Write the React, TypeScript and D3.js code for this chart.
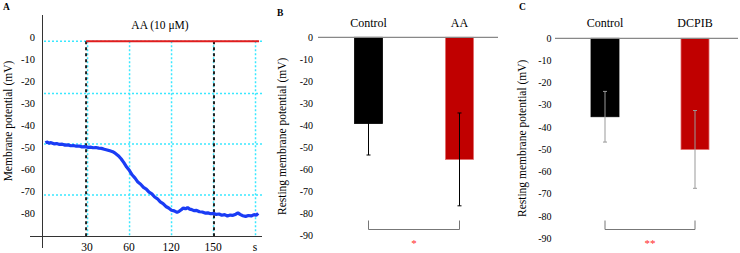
import React, { useEffect, useRef } from 'react';
import * as d3 from 'd3';

// Panel A: membrane potential trace during AA application
const traceTime = [1, 2, 3.5, 5, 7, 9, 11, 13, 15, 17, 19, 21, 23, 25, 27, 29, 31, 33, 35, 37, 39, 41, 43, 45, 47, 49, 51, 53, 55, 57, 59, 61, 63, 65, 67, 69, 71, 73, 75, 77, 79, 81, 83, 85, 87, 89, 91, 93, 95, 96.5, 98, 99.5, 101, 102.5, 104, 105.5, 107, 109, 111, 113, 115, 117, 119, 121, 123, 125, 127, 129, 131, 133, 135, 137, 138.5, 140, 142, 144, 146, 148, 150, 151.5, 153];
const traceMv = [-48.0, -47.6, -48.1, -47.9, -48.4, -48.3, -48.7, -48.6, -49.0, -48.9, -49.3, -49.2, -49.5, -49.4, -49.8, -49.7, -50.0, -49.9, -50.2, -50.1, -50.4, -50.5, -50.9, -51.2, -51.6, -52.0, -52.8, -53.8, -55.2, -57.0, -59.0, -60.6, -62.6, -64.0, -65.8, -66.8, -68.2, -69.0, -70.4, -71.2, -72.6, -73.4, -74.8, -75.6, -76.9, -77.6, -78.6, -78.9, -79.6, -79.1, -78.4, -77.5, -78.0, -77.4, -78.1, -78.3, -78.8, -78.7, -79.3, -79.4, -79.9, -79.8, -80.2, -80.0, -80.5, -80.3, -80.9, -80.6, -81.2, -80.8, -80.9, -80.4, -79.8, -80.5, -81.1, -81.4, -81.0, -81.2, -80.6, -80.9, -80.0];
const yTicksA = [0, -10, -20, -30, -40, -50, -60, -70, -80];
const xTickVals = [30, 60, 90, 120, 150];
const xTickLabels = ['30', '60', '120', '150', 's'];
const gridMvA = [-1.8, -25.5, -48.5, -71.7];
const gridTimeA = [30, 60, 90, 120, 150];
const markerTimes = [30, 121.4];
const drugStart = 30;
const drugEnd = 153.6;

// Panels B and C: resting membrane potential, mean ± error
const catsB = ['Control', 'AA'];
const meansB = [-39.2, -55.5];
const errB = [14.3, 21.1];
const catsC = ['Control', 'DCPIB'];
const meansC = [-35.3, -50.0];
const errC = [11.4, 17.5];
const yTicksBar = [0, -10, -20, -30, -40, -50, -60, -70, -80, -90];

const FONT = '"Liberation Serif", "Times New Roman", serif';

const App = () => {
  const svgRef = useRef<SVGSVGElement | null>(null);

  useEffect(() => {
    const svg = d3.select(svgRef.current);
    svg.selectAll('*').remove();
    svg.style('font-family', FONT);

    // ---------- Panel A ----------
    const xA = d3.scaleLinear().domain([-1.5, 155.7]).range([42, 262]);
    const yA = d3.scaleLinear().domain([-90, 10]).range([235.3, 15.3]);
    const gA = svg.append('g');

    gA.selectAll('line.hgrid')
      .data(gridMvA)
      .join('line')
      .attr('x1', 44).attr('x2', 262)
      .attr('y1', d => yA(d)).attr('y2', d => yA(d))
      .attr('stroke', '#3be8ff').attr('stroke-width', 1.5)
      .attr('stroke-dasharray', '2,2');

    gA.selectAll('line.vgrid')
      .data(gridTimeA)
      .join('line')
      .attr('x1', d => xA(d) + 1.5).attr('x2', d => xA(d) + 1.5)
      .attr('y1', yA(gridMvA[0])).attr('y2', 236)
      .attr('stroke', '#3be8ff').attr('stroke-width', 1.5)
      .attr('stroke-dasharray', '2,2');

    gA.selectAll('line.marker')
      .data(markerTimes)
      .join('line')
      .attr('x1', d => xA(d)).attr('x2', d => xA(d))
      .attr('y1', yA(gridMvA[0])).attr('y2', 236)
      .attr('stroke', '#222').attr('stroke-width', 2)
      .attr('stroke-dasharray', '3,3');

    // drug application bar
    gA.append('line')
      .attr('x1', xA(drugStart)).attr('x2', xA(drugEnd))
      .attr('y1', yA(gridMvA[0])).attr('y2', yA(gridMvA[0]))
      .attr('stroke', '#e21c1c').attr('stroke-width', 2);
    gA.append('text')
      .attr('x', 160).attr('y', 29)
      .attr('text-anchor', 'middle').attr('font-size', 11.5)
      .text('AA (10 μM)');

    const line = d3.line<number>()
      .x((_, i) => xA(traceTime[i]))
      .y(d => yA(d))
      .curve(d3.curveLinear);
    gA.append('path')
      .attr('d', line(traceMv))
      .attr('fill', 'none')
      .attr('stroke', '#1a3cf5')
      .attr('stroke-width', 3.2)
      .attr('stroke-linejoin', 'bevel');

    // axes
    gA.append('line')
      .attr('x1', 42.5).attr('x2', 42.5).attr('y1', 15).attr('y2', 248)
      .attr('stroke', '#333');
    gA.append('line')
      .attr('x1', 30).attr('x2', 262).attr('y1', 236.5).attr('y2', 236.5)
      .attr('stroke', '#333');

    gA.selectAll('text.ytick')
      .data(yTicksA)
      .join('text')
      .attr('x', 35).attr('y', d => yA(d) + 3.5)
      .attr('text-anchor', 'end').attr('font-size', 10.5)
      .text(d => d);

    gA.selectAll('text.xtick')
      .data(xTickVals)
      .join('text')
      .attr('x', d => xA(d) + 1).attr('y', 251)
      .attr('text-anchor', 'middle').attr('font-size', 11.5)
      .text((_, i) => xTickLabels[i]);

    gA.append('text')
      .attr('transform', 'translate(12,121) rotate(-90)')
      .attr('text-anchor', 'middle').attr('font-size', 11.5)
      .text('Membrane potential (mV)');

    gA.append('text')
      .attr('x', 3).attr('y', 10)
      .attr('font-size', 9.5).attr('font-weight', 'bold')
      .text('A');

    // ---------- Bar panels ----------
    const barPanel = (opts: {
      cats: string[]; means: number[]; errs: number[];
      centers: [number, number]; y0: number; y90: number;
      zeroFrom: number; zeroTo: number; tickX: number; titleX: number;
      errColor: string; bracketY: number; stars: string; letter: string;
      letterX: number; letterY: number;
    }) => {
      const g = svg.append('g');
      const x = d3.scalePoint<string>().domain(opts.cats).range(opts.centers);
      const y = d3.scaleLinear().domain([-90, 0]).range([opts.y90, opts.y0]);
      const bw = 28;
      const fills = ['#000000', '#c00000'];
      const strokes = ['#000000', '#e06a6a'];

      g.selectAll('rect')
        .data(opts.means)
        .join('rect')
        .attr('x', (_, i) => x(opts.cats[i])! - bw / 2)
        .attr('y', y(0))
        .attr('width', bw)
        .attr('height', d => y(d) - y(0))
        .attr('fill', (_, i) => fills[i])
        .attr('stroke', (_, i) => strokes[i])
        .attr('stroke-width', 0.8);

      g.append('line')
        .attr('x1', opts.zeroFrom).attr('x2', opts.zeroTo)
        .attr('y1', y(0)).attr('y2', y(0))
        .attr('stroke', '#888').attr('stroke-width', 1.2);

      // error bars
      opts.means.forEach((m, i) => {
        const cx = x(opts.cats[i])!;
        g.append('line')
          .attr('x1', cx).attr('x2', cx)
          .attr('y1', y(m + opts.errs[i])).attr('y2', y(m - opts.errs[i]))
          .attr('stroke', opts.errColor).attr('stroke-width', 1);
        [m + opts.errs[i], m - opts.errs[i]].forEach(v => {
          g.append('line')
            .attr('x1', cx - 2).attr('x2', cx + 2)
            .attr('y1', y(v)).attr('y2', y(v))
            .attr('stroke', opts.errColor).attr('stroke-width', 1);
        });
      });

      g.selectAll('text.ytick')
        .data(yTicksBar)
        .join('text')
        .attr('x', opts.tickX).attr('y', d => y(d) + 3.5)
        .attr('text-anchor', 'end').attr('font-size', 10)
        .text(d => d);

      g.selectAll('text.cat')
        .data(opts.cats)
        .join('text')
        .attr('x', d => x(d)!).attr('y', 27)
        .attr('text-anchor', 'middle').attr('font-size', 12)
        .text(d => d);

      g.append('text')
        .attr('transform', `translate(${opts.titleX},${(opts.y0 + opts.y90) / 2}) rotate(-90)`)
        .attr('text-anchor', 'middle').attr('font-size', 11.5)
        .text('Resting membrane potential (mV)');

      // significance bracket
      const [c0, c1] = opts.centers;
      g.append('path')
        .attr('d', `M${c0},${opts.bracketY - 9}V${opts.bracketY}H${c1}V${opts.bracketY - 9}`)
        .attr('fill', 'none').attr('stroke', '#777').attr('stroke-width', 1);
      g.append('text')
        .attr('x', (c0 + c1) / 2).attr('y', opts.bracketY + 17)
        .attr('text-anchor', 'middle').attr('font-size', 11)
        .attr('fill', '#ff2a2a')
        .text(opts.stars);

      g.append('text')
        .attr('x', opts.letterX).attr('y', opts.letterY)
        .attr('font-size', 9.5).attr('font-weight', 'bold')
        .text(opts.letter);
    };

    barPanel({
      cats: catsB, means: meansB, errs: errB,
      centers: [368.5, 459.5], y0: 37.3, y90: 235.3,
      zeroFrom: 318, zeroTo: 498, tickX: 313, titleX: 286,
      errColor: '#000', bracketY: 229.5, stars: '*', letter: 'B',
      letterX: 277, letterY: 16,
    });

    barPanel({
      cats: catsC, means: meansC, errs: errC,
      centers: [605, 695], y0: 38.3, y90: 238.3,
      zeroFrom: 555, zeroTo: 738, tickX: 551.5, titleX: 526,
      errColor: '#999', bracketY: 229.5, stars: '**', letter: 'C',
      letterX: 519, letterY: 10,
    });
  }, []);

  return (
    <svg
      ref={svgRef}
      width={740}
      height={253}
      style={{ position: 'absolute', left: 0, top: 0, background: '#fff' }}
    />
  );
};

export default App;
